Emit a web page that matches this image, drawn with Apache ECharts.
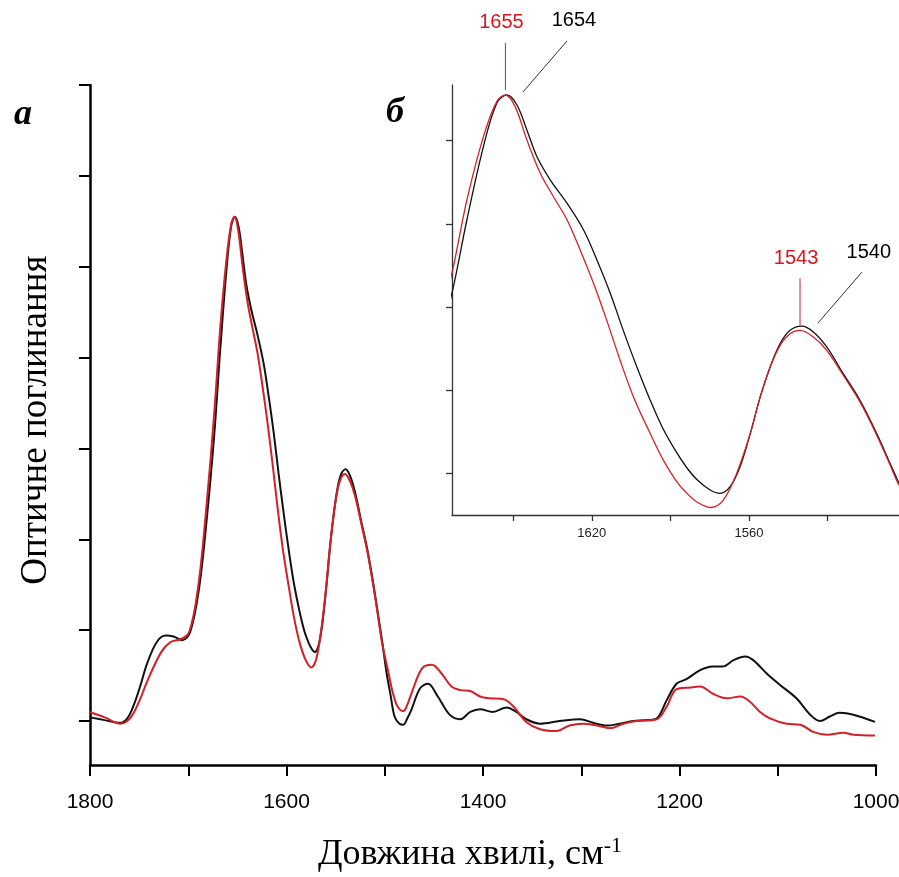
<!DOCTYPE html>
<html>
<head>
<meta charset="utf-8">
<script src="https://cdn.jsdelivr.net/npm/echarts@6/dist/echarts.min.js"></script>
<style>html,body{margin:0;padding:0;background:#fff;}#c{width:899px;height:877px;}</style>
</head>
<body>
<div id="c"></div>
<script>
// Wavenumbers (cm-1) and absorbance values (arbitrary units, 1 = one y tick)
const wnBlack = [1800,1785,1769,1762,1756,1749,1742,1732,1723,1715,1706,1698,1689,1681,1673.4,1667.7,1661.4,1656.3,1652.4,1648.6,1644.8,1641,1635.9,1629.5,1623.2,1618.1,1613,1608,1602.8,1597.7,1592.7,1588,1584,1580,1574.8,1571,1567.2,1563.4,1559.5,1555.7,1551.9,1548.1,1544.3,1539.8,1535.4,1530.3,1524,1517.6,1511.2,1506.1,1502.7,1498,1494,1490,1485,1481,1477,1473,1464,1456,1446,1434,1423,1413,1403,1390,1376,1366,1356,1342,1322,1301,1288,1274,1261,1247,1233,1223,1213,1203,1193,1179,1166,1156,1145,1133,1125,1111,1098,1081,1067,1057,1047,1037,1023,1001];
const absBlack = [0.04,0.01,-0.02,0.03,0.16,0.38,0.63,0.87,0.94,0.93,0.89,0.98,1.46,2.24,3.17,4.05,4.93,5.45,5.55,5.43,5.13,4.81,4.53,4.25,3.93,3.57,3.17,2.72,2.28,1.88,1.53,1.27,1.08,0.93,0.80,0.76,0.84,1.08,1.48,1.92,2.28,2.56,2.72,2.77,2.70,2.52,2.20,1.88,1.48,1.12,0.88,0.52,0.28,0.05,-0.03,-0.04,0.03,0.12,0.36,0.41,0.27,0.07,0.02,0.10,0.13,0.10,0.15,0.10,0.02,-0.03,0.00,0.02,-0.02,-0.05,-0.03,0.00,0.01,0.03,0.23,0.41,0.46,0.56,0.60,0.60,0.67,0.71,0.67,0.52,0.40,0.25,0.07,0.00,0.05,0.09,0.07,-0.01];
const wnRed = [1800,1785,1769,1762,1756,1749,1742,1728,1718,1708,1699,1690,1682,1673.4,1667.7,1661.4,1656.3,1653,1649.3,1644.8,1639.7,1634.7,1629.5,1624.5,1619.4,1614.3,1609.2,1604.1,1597.7,1592.7,1588,1584,1580,1574.8,1569.8,1564.7,1559.5,1555.7,1551.9,1548.1,1544.3,1540.5,1535.4,1530.3,1524,1517.6,1511.2,1506.1,1502.7,1496,1492,1488,1484,1481,1477,1473,1462,1452,1442,1432,1423,1413,1403,1393,1379,1369,1356,1342,1325,1312,1298,1284,1271,1257,1244,1223,1213,1203,1189,1179,1166,1152,1138,1128,1118,1108,1091,1077,1064,1050,1033,1023,1001];
const absRed = [0.10,0.04,-0.03,0.00,0.08,0.24,0.43,0.75,0.87,0.90,0.98,1.47,2.30,3.41,4.29,5.05,5.47,5.55,5.41,5.01,4.61,4.33,4.05,3.69,3.29,2.84,2.36,1.92,1.48,1.16,0.92,0.77,0.66,0.59,0.68,1.00,1.48,1.92,2.28,2.54,2.68,2.72,2.64,2.48,2.18,1.86,1.46,1.10,0.86,0.52,0.32,0.18,0.12,0.11,0.18,0.30,0.58,0.62,0.52,0.38,0.34,0.33,0.27,0.25,0.24,0.16,-0.01,-0.09,-0.11,-0.05,-0.03,-0.05,-0.08,-0.03,0.00,0.02,0.16,0.35,0.37,0.38,0.30,0.25,0.27,0.21,0.10,0.03,-0.03,-0.04,-0.12,-0.15,-0.13,-0.15,-0.16];
const mainXTicks = [1800,1700,1600,1500,1400,1300,1200,1100,1000];
const mainXLabels = [1800,1600,1400,1200,1000];
const mainYTicks = [0,1,2,3,4,5,6,7];
const insetXTicks = [1650,1620,1590,1560,1530];
const insetXLabels = [1620,1560];
const insetYTicks = [1,2,3,4,5];
const peakLabels = [
  {text:'1655', color:'#d9161e', wn:1653, v:5.55, series:'red'},
  {text:'1654', color:'#000', wn:1652.4, v:5.55, series:'black'},
  {text:'1543', color:'#d9161e', wn:1540.5, v:2.72, series:'red'},
  {text:'1540', color:'#000', wn:1539.8, v:2.77, series:'black'}
];

const blackData = wnBlack.map((w,i)=>[w,absBlack[i]]);
const redData = wnRed.map((w,i)=>[w,absRed[i]]);
const RED = '#d42026';
const plain = v => String(v);
const chart = echarts.init(document.getElementById('c'), null, {renderer:'canvas'});
chart.setOption({
  animation:false,
  backgroundColor:'#fff',
  grid:[
    {left:90, top:85, width:786, height:680, outerBoundsMode:'none', containLabel:false},
    {left:452, top:85, width:447, height:430, outerBoundsMode:'none', containLabel:false}
  ],
  xAxis:[
    {type:'value', gridIndex:0, min:1000, max:1800, inverse:true, interval:100,
     axisLine:{onZero:false, lineStyle:{color:'#000', width:2.5}},
     axisTick:{length:11, customValues:mainXTicks, lineStyle:{color:'#000', width:2}},
     axisLabel:{customValues:mainXLabels, formatter:plain, fontSize:21, fontFamily:'Liberation Sans', color:'#000', margin:27},
     splitLine:{show:false}},
    {type:'value', gridIndex:1, min:1502.7, max:1673.4, inverse:true,
     axisLine:{onZero:false, lineStyle:{color:'#333', width:1.3}},
     axisTick:{length:6, customValues:insetXTicks, lineStyle:{color:'#333', width:1.3}},
     axisLabel:{customValues:insetXLabels, formatter:plain, fontSize:13, fontFamily:'Liberation Sans', color:'#222', margin:12},
     splitLine:{show:false}}
  ],
  yAxis:[
    {type:'value', gridIndex:0, min:-0.484, max:7,
     axisLine:{show:true, onZero:false, lineStyle:{color:'#000', width:2.5}},
     axisTick:{show:true, length:11, customValues:mainYTicks, lineStyle:{color:'#000', width:2}},
     axisLabel:{show:false}, splitLine:{show:false}},
    {type:'value', gridIndex:1, min:0.5, max:5.67,
     axisLine:{show:true, onZero:false, lineStyle:{color:'#333', width:1.3}},
     axisTick:{show:true, length:6, customValues:insetYTicks, lineStyle:{color:'#333', width:1.3}},
     axisLabel:{show:false}, splitLine:{show:false}}
  ],
  series:[
    {type:'line', xAxisIndex:0, yAxisIndex:0, data:blackData, symbol:'none', smooth:0.35, lineStyle:{color:'#111', width:2}},
    {type:'line', xAxisIndex:0, yAxisIndex:0, data:redData, symbol:'none', smooth:0.35, lineStyle:{color:RED, width:2}},
    {type:'line', xAxisIndex:1, yAxisIndex:1, data:blackData, symbol:'none', smooth:0.35, lineStyle:{color:'#111', width:1.3}},
    {type:'line', xAxisIndex:1, yAxisIndex:1, data:redData, symbol:'none', smooth:0.35, lineStyle:{color:RED, width:1.3}}
  ]
});

// annotations in the inset, anchored to data peaks
const g = [];
peakLabels.forEach((p)=>{
  const pt = chart.convertToPixel({xAxisIndex:1, yAxisIndex:1}, [p.wn, p.v]);
  if (p.series === 'red') {
    g.push({type:'line', shape:{x1:pt[0], y1:pt[1]-5, x2:pt[0], y2:pt[1]-52}, style:{stroke:RED, lineWidth:1}});
    g.push({type:'text', x:pt[0]-4, y:pt[1]-72, style:{text:p.text, fill:p.color, font:'20px "Liberation Sans"', textAlign:'center', textVerticalAlign:'middle'}});
  } else {
    g.push({type:'line', shape:{x1:pt[0]+16, y1:pt[1]-3, x2:pt[0]+60, y2:pt[1]-54}, style:{stroke:'#333', lineWidth:1}});
    g.push({type:'text', x:pt[0]+67, y:pt[1]-74, style:{text:p.text, fill:p.color, font:'20px "Liberation Sans"', textAlign:'center', textVerticalAlign:'middle'}});
  }
});
g.push({type:'text', x:36, y:420, rotation:Math.PI/2, style:{text:'Оптичне поглинання', fill:'#000', font:'37px "Liberation Serif"', textAlign:'center', textVerticalAlign:'middle'}});
g.push({type:'text', x:470, y:855, style:{text:'{a|Довжина хвилі, см}{b|-1}', textAlign:'center', textVerticalAlign:'middle',
  rich:{a:{fontSize:36, fontFamily:'Liberation Serif', fill:'#000', lineHeight:40}, b:{fontSize:22, fontFamily:'Liberation Serif', fill:'#000', verticalAlign:'top', lineHeight:40}}}});
g.push({type:'text', x:23, y:115, style:{text:'а', fill:'#000', font:'italic bold 36px "Liberation Serif"', textAlign:'center', textVerticalAlign:'middle'}});
g.push({type:'text', x:395, y:113, style:{text:'б', fill:'#000', font:'italic bold 36px "Liberation Serif"', textAlign:'center', textVerticalAlign:'middle'}});
chart.setOption({graphic:g});
</script>
</body>
</html>
